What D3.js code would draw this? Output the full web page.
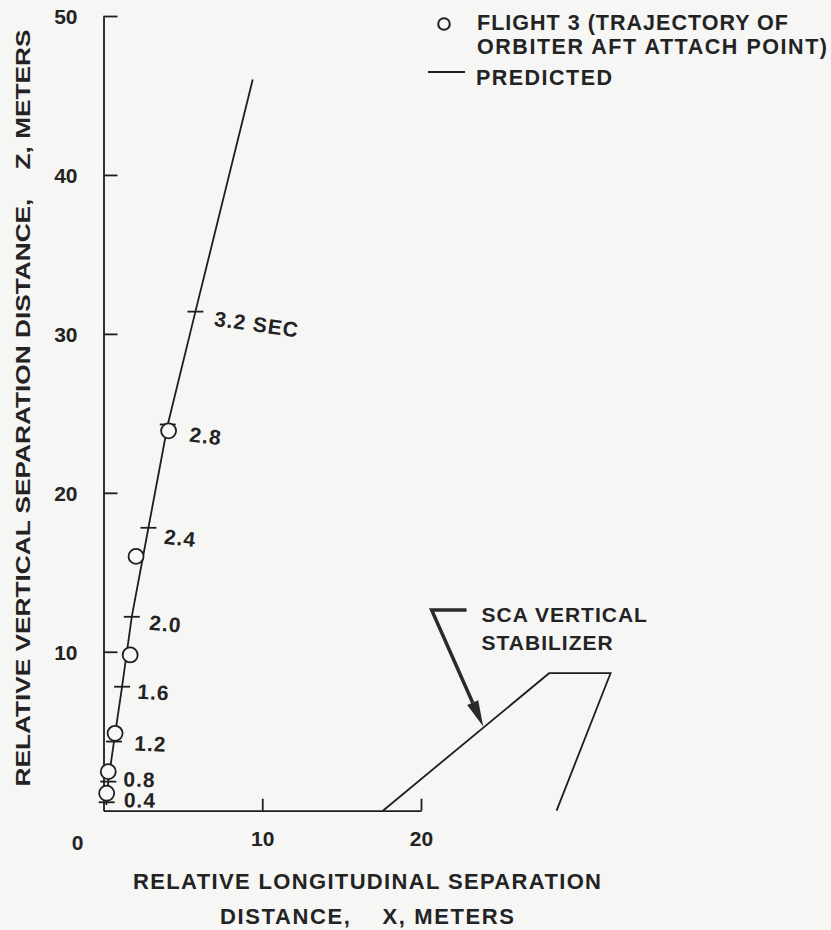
<!DOCTYPE html>
<html>
<head>
<meta charset="utf-8">
<script src="https://cdn.jsdelivr.net/npm/d3@7/dist/d3.min.js"></script>
<style>
  html, body { margin: 0; padding: 0; background: #f6f6f5; }
  svg { display: block; }
  text { font-family: "Liberation Sans", Arial, Helvetica, sans-serif; font-weight: bold; fill: #232323; }
</style>
</head>
<body>
<script>
// ---- data ----
const xTicks = [10, 20];
const yTicks = [10, 20, 30, 40, 50];
const predX = [0.17, 0.2, 0.3, 0.66, 1.17, 1.78, 2.83, 4.05, 5.79, 9.4];
const predZ = [0.35, 0.53, 1.83, 4.35, 7.8, 12.2, 17.8, 24.3, 31.4, 46.0];
const timeLabels = ["0.4", "0.8", "1.2", "1.6", "2.0", "2.4", "2.8", "3.2 SEC"];
const timeX = [0.2, 0.3, 0.66, 1.17, 1.78, 2.83, 4.05, 5.79];
const timeZ = [0.53, 1.83, 4.35, 7.8, 12.2, 17.8, 24.3, 31.4];
const flightX = [0.2, 0.3, 0.73, 1.68, 2.05, 4.1];
const flightZ = [1.1, 2.46, 4.87, 9.8, 16.0, 23.9];
const stabX = [17.6, 28.07, 31.94, 28.54];
const stabZ = [0, 8.65, 8.65, 0];
const arrowX = [22.87, 20.67, 23.92];
const arrowZ = [12.63, 12.63, 5.3];
const legendLabels = ["FLIGHT 3 (TRAJECTORY OF", "ORBITER AFT ATTACH POINT)", "PREDICTED"];
const stabLabels = ["SCA VERTICAL", "STABILIZER"];
const xTitle = ["RELATIVE LONGITUDINAL SEPARATION", "DISTANCE,    X, METERS"];
const yTitle = "RELATIVE VERTICAL SEPARATION DISTANCE,    Z, METERS";

// ---- layout ----
const W = 831, H = 930;
const x = d3.scaleLinear().domain([0, 20]).range([103.5, 421]);
const y = d3.scaleLinear().domain([0, 50]).range([810.7, 16]);
const ink = "#1e1e1e";

const svg = d3.select("body").append("svg").attr("width", W).attr("height", H);
svg.append("rect").attr("width", W).attr("height", H).attr("fill", "#f6f6f5");

// axes
const yAxis = d3.axisLeft(y).tickValues(yTicks).tickSizeInner(-14).tickSizeOuter(0).tickPadding(26).tickFormat(d3.format("d"));
const gy = svg.append("g").attr("transform", `translate(${x(0)},0)`).call(yAxis);
const xAxis = d3.axisBottom(x).tickValues(xTicks).tickSizeInner(-12).tickSizeOuter(0).tickPadding(20).tickFormat(d3.format("d"));
const gx = svg.append("g").attr("transform", `translate(0,${y(0)})`).call(xAxis);
[gx, gy].forEach(g => {
  g.selectAll("path, line").attr("stroke", ink).attr("stroke-width", 1.8);
  g.selectAll("text").style("font-size", "21px").attr("fill", "#232323")
    .style("font-family", '"Liberation Sans", Arial, sans-serif').style("font-weight", "bold");
});
gy.selectAll("text").attr("dy", "0.36em");
// corner zero label
svg.append("text").attr("x", x(0) - 26).attr("y", y(0) + 39).attr("text-anchor", "middle")
  .style("font-size", "21px").text("0");

// stabilizer outline
const stabPts = stabX.map((d, i) => [x(d), y(stabZ[i])]);
svg.append("path").attr("d", d3.line()(stabPts)).attr("fill", "none").attr("stroke", ink).attr("stroke-width", 1.8);

// arrow
const arrPts = arrowX.map((d, i) => [x(d), y(arrowZ[i])]);
const tip = arrPts[2], base = arrPts[1];
const ang = Math.atan2(tip[1] - base[1], tip[0] - base[0]);
const headLen = 26, headW = 6;
const hb = [tip[0] - headLen * Math.cos(ang), tip[1] - headLen * Math.sin(ang)];
svg.append("path").attr("d", d3.line()([arrPts[0], arrPts[1], hb]))
  .attr("fill", "none").attr("stroke", "#2a2a2a").attr("stroke-width", 3.5).attr("stroke-linejoin", "miter");
svg.append("path").attr("d", d3.line()([
  tip,
  [hb[0] + headW * Math.sin(ang), hb[1] - headW * Math.cos(ang)],
  [hb[0] - headW * Math.sin(ang), hb[1] + headW * Math.cos(ang)]
]) + "Z").attr("fill", "#2a2a2a");

stabLabels.forEach((t, i) => {
  svg.append("text").attr("x", x(arrowX[0]) + 15).attr("y", y(arrowZ[0]) + 12 + i * 28.5)
    .style("font-size", "21px").style("letter-spacing", "1px").text(t);
});

// predicted line
const predPts = predX.map((d, i) => [x(d), y(predZ[i])]);
svg.append("path").attr("d", d3.line()(predPts)).attr("fill", "none").attr("stroke", ink).attr("stroke-width", 1.8);

// time ticks on predicted line
timeX.forEach((d, i) => {
  const cx = x(d), cy = y(timeZ[i]);
  svg.append("line").attr("x1", cx - 8).attr("x2", cx + 8).attr("y1", cy).attr("y2", cy)
    .attr("stroke", ink).attr("stroke-width", 1.8);
});
const lblOff = [[17, 5], [15, 5], [20, 9], [15, 12], [17, 13], [15, 16], [21, 17], [18, 14]];
const lblRot = [1, 1, 2, 3, 5, 6, 7, 8];
timeLabels.forEach((t, i) => {
  const lx = x(timeX[i]) + lblOff[i][0], ly = y(timeZ[i]) + lblOff[i][1];
  svg.append("text").attr("transform", `translate(${lx},${ly}) rotate(${lblRot[i]})`)
    .style("font-size", "21px").style("letter-spacing", "1px").text(t);
});

// flight data circles
flightX.forEach((d, i) => {
  svg.append("circle").attr("cx", x(d)).attr("cy", y(flightZ[i])).attr("r", 7.5)
    .attr("fill", "#f8f8f8").attr("stroke", ink).attr("stroke-width", 1.8);
});

// legend
svg.append("circle").attr("cx", 444).attr("cy", 24).attr("r", 5.8).attr("fill", "none").attr("stroke", ink).attr("stroke-width", 2);
svg.append("line").attr("x1", 428).attr("x2", 465).attr("y1", 72).attr("y2", 72).attr("stroke", ink).attr("stroke-width", 1.8);
const legY = [30, 53.5, 85], legX = [477, 477, 476], legLen = [311, 350, 136];
legendLabels.forEach((t, i) => {
  svg.append("text").attr("x", legX[i]).attr("y", legY[i]).style("font-size", "21.5px")
    .attr("textLength", legLen[i]).attr("lengthAdjust", "spacing").text(t);
});

// axis titles
svg.append("text").attr("x", 133).attr("y", 889)
  .style("font-size", "22px").attr("textLength", 468).attr("lengthAdjust", "spacing").text(xTitle[0]);
svg.append("text").attr("x", 220).attr("y", 924)
  .style("font-size", "22px").style("white-space", "pre").attr("textLength", 294).attr("lengthAdjust", "spacing").text(xTitle[1]);
svg.append("text").attr("transform", "translate(30,408) rotate(-90)").attr("text-anchor", "middle")
  .style("font-size", "21px").style("white-space", "pre")
  .attr("textLength", 757).attr("lengthAdjust", "spacingAndGlyphs").text(yTitle);
</script>
</body>
</html>
